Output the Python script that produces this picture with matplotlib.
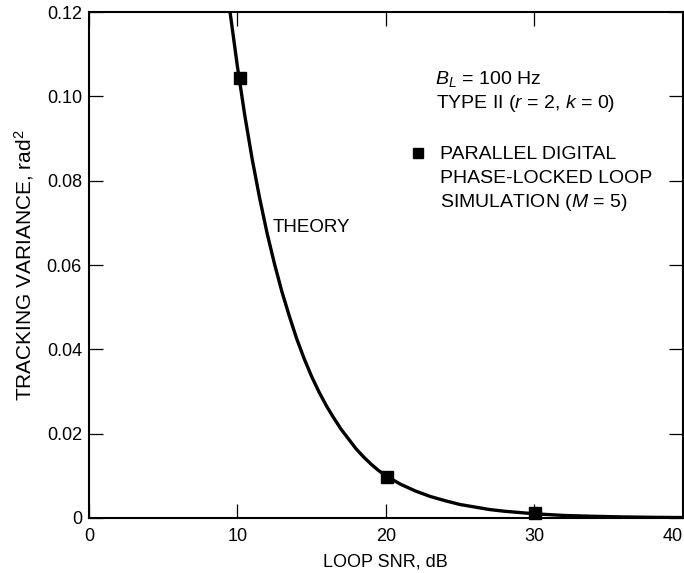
# Tracking variance vs loop SNR -- theory curve and PDPLL simulation points
import matplotlib.pyplot as plt

plt.rcParams['font.family'] = ['Liberation Sans', 'DejaVu Sans']
plt.rcParams['mathtext.fontset'] = 'custom'
plt.rcParams['mathtext.rm'] = 'Liberation Sans'
plt.rcParams['mathtext.it'] = 'Liberation Sans:italic'

# Theory curve (smoothed readings)
theory_snr = [9.5, 10.0, 10.5, 11.0, 11.5, 12.0, 12.5, 13.0, 13.5, 14.0, 14.5,
              15.0, 15.5, 16.0, 16.5, 17.0, 17.5, 18.0, 18.5, 19.0, 19.5, 20.0,
              21.0, 22.0, 23.0, 24.0, 25.0, 26.0, 27.0, 28.0, 30.0, 32.0, 34.0,
              36.0, 38.0, 40.0]
theory_var = [0.1202, 0.1072, 0.0955, 0.0851, 0.0759, 0.0676, 0.0603, 0.0537,
              0.0479, 0.0425, 0.0378, 0.0336, 0.0299, 0.0266, 0.0237, 0.0210,
              0.0187, 0.0164, 0.0145, 0.0128, 0.0113, 0.0100, 0.0080, 0.0064,
              0.0051, 0.0041, 0.0032, 0.0026, 0.0020, 0.0016, 0.0010, 0.0006,
              0.0004, 0.00025, 0.00016, 0.0001]

# Simulation points (M = 5)
sim_snr = [10.15, 20.07, 30.03]
sim_var = [0.1043, 0.0098, 0.0013]

x_ticks = [0, 10, 20, 30, 40]
y_ticks = [0, 0.02, 0.04, 0.06, 0.08, 0.10, 0.12]
y_tick_labels = ['0', '0.02', '0.04', '0.06', '0.08', '0.10', '0.12']

fig = plt.figure(figsize=(6.84, 5.73), dpi=100)
ax = fig.add_axes([0.130, 0.096, 0.868, 0.883])

ax.plot(theory_snr, theory_var, color='black', lw=2.4, solid_joinstyle='round')
ax.plot(sim_snr, sim_var, 's', color='black', ms=8, clip_on=False)

ax.set_xlim(0, 40)
ax.set_ylim(0, 0.12)
ax.set_xticks(x_ticks)
ax.set_yticks(y_ticks)
ax.set_yticklabels(y_tick_labels)
ax.tick_params(direction='in', length=10, width=0.9, labelsize=13,
               top=True, right=True, pad=5)
ax.tick_params(axis='x', labeltop=False, pad=7)
ax.tick_params(axis='y', labelright=False)
for s in ax.spines.values():
    s.set_linewidth(1.5)

# last x label sits against the right edge, as in the original
ax.get_xticklabels()[-1].set_horizontalalignment('right')

ax.set_xlabel('LOOP SNR, dB', fontsize=13, labelpad=6)
ax.set_ylabel('TRACKING VARIANCE, rad$^2$', fontsize=15, labelpad=8)

ax.text(12.39, 0.069, 'THEORY', fontsize=13.5, va='center')
ax.text(23.3, 0.1041, '$B_L$ = 100 Hz', fontsize=14, va='center')
ax.text(23.37, 0.0982, 'TYPE II ($r$ = 2, $k$ = 0)', fontsize=14, va='center')
ax.plot([22.15], [0.0866], 's', color='black', ms=7.5)
ax.text(23.68, 0.0863, 'PARALLEL DIGITAL', fontsize=14, va='center')
ax.text(23.68, 0.0806, 'PHASE-LOCKED LOOP', fontsize=14, va='center')
ax.text(23.68, 0.0749, 'SIMULATION ($M$ = 5)', fontsize=14, va='center')

plt.savefig('out.png', dpi=100)
